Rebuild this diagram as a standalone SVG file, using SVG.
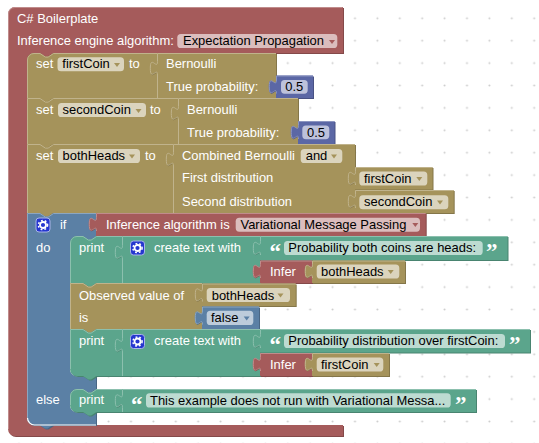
<svg xmlns="http://www.w3.org/2000/svg" width="539" height="443" viewBox="0 0 539 443">
<style>
text{font-family:"Liberation Sans",Arial,sans-serif;font-size:12.95px}
.w{fill:#fff}
.k{fill:#000}
.q{font-family:"Liberation Serif",serif;font-weight:bold;font-size:23px;fill:#fff}
.f{fill:#fff;fill-opacity:.6}
.red{fill:#a55b5b;filter:drop-shadow(1px 1px 0 #844949)}
.tan{fill:#a5935b;filter:drop-shadow(1px 1px 0 #847649)}
.blu{fill:#5b80a5;filter:drop-shadow(1px 1px 0 #496684)}
.grn{fill:#5ba58c;filter:drop-shadow(1px 1px 0 #498470)}
.num{fill:#5b67a5;filter:drop-shadow(1px 1px 0 #495284)}
.lred,.ltan,.lblu,.lgrn,.lnum{fill:none;stroke-width:1}
.lred{stroke:#c08c8c}.ltan{stroke:#c0b38c}.lblu{stroke:#8ca6c0}.lgrn{stroke:#8cc0ae}.lnum{stroke:#8c95c0}
.ared{fill:#a55b5b}.atan{fill:#a5935b}.ablu{fill:#5b80a5}
</style>
<defs>
<pattern id="dots" patternUnits="userSpaceOnUse" x="7.8" y="7.1" width="22.4" height="22.4"><circle cx="11.2" cy="11.2" r="1" fill="#ccc"/></pattern>
<g id="gear">
<rect x="0.5" y="0.5" width="14" height="14" rx="3" fill="#2536cf" stroke="#a9b4e8"/>
<circle cx="7.5" cy="7.5" r="3" fill="none" stroke="#fff" stroke-width="1.8"/>
<circle cx="7.5" cy="7.5" r="4.6" fill="none" stroke="#fff" stroke-width="1.5" stroke-dasharray="1.8 2.02"/>
</g>
</defs>
<rect width="539" height="443" fill="#fff"/>
<rect width="539" height="443" fill="url(#dots)"/>

<g id="boilerplate">
<path class="red" d="M8,14a7,7 0 0 1 7,-7H343V53H53l-5.4,3.6h-2.7l-5.4,-3.6H34a7,7 0 0 0 -7,7V418a7,7 0 0 0 7,7H343V436H15a7,7 0 0 1 -7,-7Z"/>
<path class="lred" d="M8.5,429V14a6.5,6.5 0 0 1 6.5,-6.5H342.5"/>
<text class="w" x="17" y="22.7">C# Boilerplate</text>
<text class="w" x="17" y="45">Inference engine algorithm:</text>
<rect class="f" x="177.3" y="34" width="160" height="14" rx="3.6"/>
<text class="k" x="183" y="45">Expectation Propagation</text>
<path class="ared" d="M329,40h6l-3,4Z"/>
</g>

<g id="set-firstCoin">
<path class="tan" d="M27,60a7,7 0 0 1 7,-7H40l5.4,3.6h2.7l5.4,-3.6H157V98H53l-5.4,3.6h-2.7l-5.4,-3.6H27Z"/>
<path class="ltan" d="M27.5,98V60a6.5,6.5 0 0 1 6.5,-6.5H40l5.4,3.6h2.7l5.4,-3.6H157"/>
<text class="w" x="36" y="68.3">set</text>
<rect class="f" x="57.5" y="57.3" width="66.5" height="14" rx="3.6"/>
<text class="k" x="62.3" y="68.3">firstCoin</text>
<path class="atan" d="M114,63h6l-3,4Z"/>
<text class="w" x="129" y="68.3">to</text>
</g>
<g id="bernoulli-1">
<path class="tan" d="M157,53H276V98H157V75c0,-9 -7.2,7.2 -7.2,-6.75s7.2,2.25 7.2,-6.75Z"/>
<path class="ltan" d="M157.5,98V75c0,-9 -7.2,7.2 -7.2,-6.75s7.2,2.25 7.2,-6.75V53.5H276"/>
<text class="w" x="166" y="68.3">Bernoulli</text>
<text class="w" x="166" y="91">True probability:</text>
</g>
<g id="number-1">
<path class="num" d="M276,75.5H313V98H276V93.5c0,-9 -7.2,7.2 -7.2,-6.75s7.2,2.25 7.2,-6.75Z"/>
<path class="lnum" d="M276.5,93.5c0,-9 -7.2,7.2 -7.2,-6.75s7.2,2.25 7.2,-6.75V76H313"/>
<rect class="f" x="281" y="80" width="26.7" height="13.7" rx="3.6"/>
<text class="k" x="285.3" y="91">0.5</text>
</g>

<g id="set-secondCoin">
<path class="tan" d="M27,98H40l5.4,3.6h2.7l5.4,-3.6H178V144H53l-5.4,3.6h-2.7l-5.4,-3.6H27Z"/>
<path class="ltan" d="M27.5,144V98.5H40l5.4,3.6h2.7l5.4,-3.6H178"/>
<text class="w" x="36" y="114">set</text>
<rect class="f" x="58" y="103" width="88" height="14" rx="3.6"/>
<text class="k" x="62.5" y="114">secondCoin</text>
<path class="atan" d="M135.5,109h6l-3,4Z"/>
<text class="w" x="150" y="114">to</text>
</g>
<g id="bernoulli-2">
<path class="tan" d="M178,98H298V144H178V120c0,-9 -7.2,7.2 -7.2,-6.75s7.2,2.25 7.2,-6.75Z"/>
<path class="ltan" d="M178.5,144V120c0,-9 -7.2,7.2 -7.2,-6.75s7.2,2.25 7.2,-6.75V98.5H298"/>
<text class="w" x="187" y="114">Bernoulli</text>
<text class="w" x="187" y="137">True probability:</text>
</g>
<g id="number-2">
<path class="num" d="M298,121H334.5V144H298V139c0,-9 -7.2,7.2 -7.2,-6.75s7.2,2.25 7.2,-6.75Z"/>
<path class="lnum" d="M298.5,139c0,-9 -7.2,7.2 -7.2,-6.75s7.2,2.25 7.2,-6.75V121.5H334.5"/>
<rect class="f" x="302.3" y="125.5" width="27" height="13.7" rx="3.6"/>
<text class="k" x="307" y="137">0.5</text>
</g>

<g id="set-bothHeads">
<path class="tan" d="M27,144H40l5.4,3.6h2.7l5.4,-3.6H173V213H53l-5.4,3.6h-2.7l-5.4,-3.6H27Z"/>
<path class="ltan" d="M27.5,213V144.5H40l5.4,3.6h2.7l5.4,-3.6H173"/>
<text class="w" x="36" y="160">set</text>
<rect class="f" x="58" y="149" width="82" height="14" rx="3.6"/>
<text class="k" x="62.5" y="160">bothHeads</text>
<path class="atan" d="M129,154.5h6l-3,4Z"/>
<text class="w" x="145" y="160">to</text>
</g>
<g id="combined-bernoulli">
<path class="tan" d="M173,144H355V213H173V166c0,-9 -7.2,7.2 -7.2,-6.75s7.2,2.25 7.2,-6.75Z"/>
<path class="ltan" d="M173.5,213V166c0,-9 -7.2,7.2 -7.2,-6.75s7.2,2.25 7.2,-6.75V144.5H355"/>
<text class="w" x="182" y="160">Combined Bernoulli</text>
<rect class="f" x="300.7" y="149" width="41.6" height="14" rx="3.6"/>
<text class="k" x="305.7" y="160">and</text>
<path class="atan" d="M331,154.5h6l-3,4Z"/>
<text class="w" x="182" y="181.7">First distribution</text>
<text class="w" x="182" y="205.7">Second distribution</text>
</g>
<g id="var-firstCoin-1">
<path class="tan" d="M355,167H432.5V189.5H355V185c0,-9 -7.2,7.2 -7.2,-6.75s7.2,2.25 7.2,-6.75Z"/>
<path class="ltan" d="M355.5,185c0,-9 -7.2,7.2 -7.2,-6.75s7.2,2.25 7.2,-6.75V167.5H432.5"/>
<rect class="f" x="359.3" y="171.5" width="68" height="14" rx="3.6"/>
<text class="k" x="364" y="182.5">firstCoin</text>
<path class="atan" d="M416.3,177h6l-3,4Z"/>
</g>
<g id="var-secondCoin">
<path class="tan" d="M355,190H453.7V213H355V208c0,-9 -7.2,7.2 -7.2,-6.75s7.2,2.25 7.2,-6.75Z"/>
<path class="ltan" d="M355.5,208c0,-9 -7.2,7.2 -7.2,-6.75s7.2,2.25 7.2,-6.75V190.5H453.7"/>
<rect class="f" x="359.3" y="195.3" width="89" height="14" rx="3.6"/>
<text class="k" x="364" y="206.3">secondCoin</text>
<path class="atan" d="M437,200.5h6l-3,4Z"/>
</g>

<g id="if-block">
<path class="blu" d="M27,213H40l5.4,3.6h2.7l5.4,-3.6H96V236.5l-5.4,3.6h-2.7l-5.4,-3.6H77a7,7 0 0 0 -7,7V369a7,7 0 0 0 7,7H96V389l-5.4,3.6h-2.7l-5.4,-3.6H77a7,7 0 0 0 -7,7V405a7,7 0 0 0 7,7H96V425H53l-5.4,3.6h-2.7l-5.4,-3.6H34a7,7 0 0 1 -7,-7Z"/>
<path class="lblu" d="M27.5,418V213.5H40l5.4,3.6h2.7l5.4,-3.6H96"/>
<path d="M70.5,369a7,7 0 0 0 7,7H96M70.5,405a7,7 0 0 0 7,7H96M27.5,418a7,7 0 0 0 7,7H96" fill="none" stroke="#fff" stroke-width="1.2"/>
<use href="#gear" x="35.5" y="217.5"/>
<text class="w" x="60" y="229.3">if</text>
<text class="w" x="36" y="251.5">do</text>
<text class="w" x="36" y="404">else</text>
</g>
<g id="inference-algorithm">
<path class="red" d="M96,213H425.7V236H96V231c0,-9 -7.2,7.2 -7.2,-6.75s7.2,2.25 7.2,-6.75Z"/>
<path class="lred" d="M96.5,231c0,-9 -7.2,7.2 -7.2,-6.75s7.2,2.25 7.2,-6.75V213.5H425.7"/>
<text class="w" x="106" y="229.3">Inference algorithm is</text>
<rect class="f" x="235.7" y="217.7" width="184.3" height="14" rx="3.6"/>
<text class="k" x="240.5" y="229.3">Variational Message Passing</text>
<path class="ared" d="M412.3,223h6l-3,4Z"/>
</g>

<g id="print-1">
<path class="grn" d="M70,243a7,7 0 0 1 7,-7H83l5.4,3.6h2.7l5.4,-3.6H122V283H96.5l-5.4,3.6h-2.7l-5.4,-3.6H70Z"/>
<path class="lgrn" d="M70.5,283V243a6.5,6.5 0 0 1 6.5,-6.5H83l5.4,3.6h2.7l5.4,-3.6H122"/>
<text class="w" x="79" y="252">print</text>
</g>
<g id="join-1">
<path class="grn" d="M122,236H260V283H122V259c0,-9 -7.2,7.2 -7.2,-6.75s7.2,2.25 7.2,-6.75Z"/>
<path class="lgrn" d="M122.5,283V259c0,-9 -7.2,7.2 -7.2,-6.75s7.2,2.25 7.2,-6.75V236.5H260"/>
<use href="#gear" x="130" y="240.5"/>
<text class="w" x="154" y="252">create text with</text>
</g>
<g id="text-1">
<path class="grn" d="M260,236H507.5V260H260V255c0,-9 -7.2,7.2 -7.2,-6.75s7.2,2.25 7.2,-6.75Z"/>
<path class="lgrn" d="M260.5,255c0,-9 -7.2,7.2 -7.2,-6.75s7.2,2.25 7.2,-6.75V236.5H507.5"/>
<text class="q" x="269.5" y="258.6">“</text>
<rect class="f" x="284" y="241" width="198.7" height="14" rx="3.6"/>
<text class="k" x="288.3" y="252">Probability both coins are heads:</text>
<text class="q" x="486" y="258.6">”</text>
</g>
<g id="infer-1">
<path class="red" d="M260,260.5H312V283H260V278c0,-9 -7.2,7.2 -7.2,-6.75s7.2,2.25 7.2,-6.75Z"/>
<path class="lred" d="M260.5,278c0,-9 -7.2,7.2 -7.2,-6.75s7.2,2.25 7.2,-6.75V261H312"/>
<text class="w" x="270" y="275.5">Infer</text>
</g>
<g id="var-bothHeads-1">
<path class="tan" d="M312,260.5H405V283H312V278c0,-9 -7.2,7.2 -7.2,-6.75s7.2,2.25 7.2,-6.75Z"/>
<path class="ltan" d="M312.5,278c0,-9 -7.2,7.2 -7.2,-6.75s7.2,2.25 7.2,-6.75V261H405"/>
<rect class="f" x="316.7" y="264.5" width="82.6" height="14" rx="3.6"/>
<text class="k" x="321" y="275.5">bothHeads</text>
<path class="atan" d="M387.7,270h6l-3,4Z"/>
</g>

<g id="observed-value">
<path class="tan" d="M70,283H83l5.4,3.6h2.7l5.4,-3.6H202V329H96.5l-5.4,3.6h-2.7l-5.4,-3.6H70Z"/>
<path class="ltan" d="M70.5,329V283.5H83l5.4,3.6h2.7l5.4,-3.6H202"/>
<text class="w" x="79" y="299.5">Observed value of</text>
<text class="w" x="79" y="322">is</text>
</g>
<g id="var-bothHeads-2">
<path class="tan" d="M202,283.5H295.7V306H202V301.5c0,-9 -7.2,7.2 -7.2,-6.75s7.2,2.25 7.2,-6.75Z"/>
<path class="ltan" d="M202.5,301.5c0,-9 -7.2,7.2 -7.2,-6.75s7.2,2.25 7.2,-6.75V284H295.7"/>
<rect class="f" x="206.7" y="288" width="83.3" height="14" rx="3.6"/>
<text class="k" x="211.7" y="299.5">bothHeads</text>
<path class="atan" d="M277.5,293.5h6l-3,4Z"/>
</g>
<g id="false">
<path class="blu" d="M202,306.5H259V329H202V324.5c0,-9 -7.2,7.2 -7.2,-6.75s7.2,2.25 7.2,-6.75Z"/>
<path class="lblu" d="M202.5,324.5c0,-9 -7.2,7.2 -7.2,-6.75s7.2,2.25 7.2,-6.75V307H259"/>
<rect class="f" x="206.7" y="310.7" width="46.6" height="14.3" rx="3.6"/>
<text class="k" x="211" y="322">false</text>
<path class="ablu" d="M243.7,316.5h6l-3,4Z"/>
</g>

<g id="print-2">
<path class="grn" d="M70,329H83l5.4,3.6h2.7l5.4,-3.6H122V376H96.5l-5.4,3.6h-2.7l-5.4,-3.6H77a7,7 0 0 1 -7,-7Z"/>
<path class="lgrn" d="M70.5,369V329.5H83l5.4,3.6h2.7l5.4,-3.6H122"/>
<text class="w" x="79" y="345">print</text>
</g>
<g id="join-2">
<path class="grn" d="M122,329H260V376H122V352c0,-9 -7.2,7.2 -7.2,-6.75s7.2,2.25 7.2,-6.75Z"/>
<path class="lgrn" d="M122.5,376V352c0,-9 -7.2,7.2 -7.2,-6.75s7.2,2.25 7.2,-6.75V329.5H260"/>
<use href="#gear" x="130" y="334"/>
<text class="w" x="154" y="345">create text with</text>
</g>
<g id="text-2">
<path class="grn" d="M260,329H530V352.5H260V348c0,-9 -7.2,7.2 -7.2,-6.75s7.2,2.25 7.2,-6.75Z"/>
<path class="lgrn" d="M260.5,348c0,-9 -7.2,7.2 -7.2,-6.75s7.2,2.25 7.2,-6.75V329.5H530"/>
<text class="q" x="269.5" y="351.6">“</text>
<rect class="f" x="284" y="334" width="221" height="14" rx="3.6"/>
<text class="k" x="288.3" y="345">Probability distribution over firstCoin:</text>
<text class="q" x="509" y="351.6">”</text>
</g>
<g id="infer-2">
<path class="red" d="M260,353H312V376H260V371c0,-9 -7.2,7.2 -7.2,-6.75s7.2,2.25 7.2,-6.75Z"/>
<path class="lred" d="M260.5,371c0,-9 -7.2,7.2 -7.2,-6.75s7.2,2.25 7.2,-6.75V353.5H312"/>
<text class="w" x="270" y="369">Infer</text>
</g>
<g id="var-firstCoin-2">
<path class="tan" d="M312,353H389V376H312V371c0,-9 -7.2,7.2 -7.2,-6.75s7.2,2.25 7.2,-6.75Z"/>
<path class="ltan" d="M312.5,371c0,-9 -7.2,7.2 -7.2,-6.75s7.2,2.25 7.2,-6.75V353.5H389"/>
<rect class="f" x="316.7" y="357.5" width="66.6" height="14" rx="3.6"/>
<text class="k" x="321" y="369">firstCoin</text>
<path class="atan" d="M373.7,363h6l-3,4Z"/>
</g>

<g id="print-3">
<path class="grn" d="M70,396a7,7 0 0 1 7,-7H83l5.4,3.6h2.7l5.4,-3.6H122V412H96.5l-5.4,3.6h-2.7l-5.4,-3.6H77a7,7 0 0 1 -7,-7Z"/>
<path class="lgrn" d="M70.5,405V396a6.5,6.5 0 0 1 6.5,-6.5H83l5.4,3.6h2.7l5.4,-3.6H122"/>
<text class="w" x="79" y="404">print</text>
</g>
<g id="text-3">
<path class="grn" d="M122,389H476V412H122V407.5c0,-9 -7.2,7.2 -7.2,-6.75s7.2,2.25 7.2,-6.75Z"/>
<path class="lgrn" d="M122.5,412V407.5c0,-9 -7.2,7.2 -7.2,-6.75s7.2,2.25 7.2,-6.75V389.5H476"/>
<text class="q" x="131" y="411.6">“</text>
<rect class="f" x="146" y="393.3" width="304.7" height="14.2" rx="3.6"/>
<text class="k" x="150" y="404.5">This example does not run with Variational Messa...</text>
<text class="q" x="455" y="411.6">”</text>
</g>
</svg>
